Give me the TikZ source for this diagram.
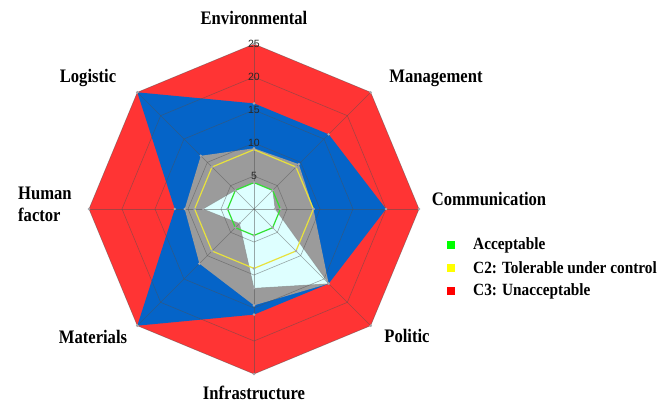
\documentclass[tikz,border=0pt]{standalone}
\usepackage{fontspec}
\setmainfont{Liberation Serif}
\newfontfamily\tickfont{Liberation Sans}
\definecolor{redC}{RGB}{255,52,52}
\definecolor{blueC}{RGB}{5,100,200}
\definecolor{grayC}{RGB}{155,155,155}
\definecolor{cyanC}{RGB}{222,255,255}
\definecolor{yelC}{RGB}{232,226,60}
\definecolor{greenC}{RGB}{50,225,50}
\definecolor{gridC}{RGB}{80,80,80}
\definecolor{mkC}{RGB}{165,165,170}
\begin{document}
\begin{tikzpicture}[x=1pt,y=1pt,
  axlbl/.style={font=\bfseries\fontsize{16.6}{19}\selectfont, inner sep=0pt, yscale=1.15, transform shape},
  leglbl/.style={font=\bfseries\fontsize{15.3}{17}\selectfont, anchor=west, inner sep=0pt, yscale=1.12, transform shape},
  legbox/.style={minimum size=7.5pt, inner sep=0pt, draw=none},
  tick/.style={font=\tickfont\fontsize{10.5}{11}\selectfont, text=black!85, inner sep=0pt},
  gridline/.style={draw=gridC, draw opacity=0.5, line width=0.6pt},
  mk/.style={fill=mkC}]
\useasboundingbox (0,0) rectangle (670,-404);
\fill[white] (0,0) rectangle (670,-404);
\begin{scope}[shift={(254,-209)}]
  % data coordinates
  \foreach \v [count=\i from 0] in {25,25,25,25,25,25,25,25}
    \coordinate (r\i) at ({90-45*\i}:{\v*6.6});
  \foreach \v [count=\i from 0] in {16,16,20,16,16,25,12,25}
    \coordinate (b\i) at ({90-45*\i}:{\v*6.6});
  \foreach \v [count=\i from 0] in {9.2,9.6,9,16,14.6,11.7,10.5,11.4}
    \coordinate (g\i) at ({90-45*\i}:{\v*6.6});
  \foreach \v [count=\i from 0] in {4,4,3.2,16,12,3.1,7.7,4}
    \coordinate (c\i) at ({90-45*\i}:{\v*6.6});
  \foreach \v [count=\i from 0] in {9,9,9,9,9,9,9,9}
    \coordinate (y\i) at ({90-45*\i}:{\v*6.6});
  \foreach \v [count=\i from 0] in {4,4,4,4,4,4,4,4}
    \coordinate (e\i) at ({90-45*\i}:{\v*6.6});
  \coordinate (O) at (0,0);
  % fills
  \fill[redC] (r0)--(r1)--(r2)--(r3)--(r4)--(r5)--(r6)--(r7)--cycle;
  \fill[blueC] (b0)--(b1)--(b2)--(b3)--(b4)--(b5)--(b6)--(b7)--cycle;
  \fill[grayC] (g0)--(g1)--(g2)--(g3)--(g4)--(g5)--(g6)--(g7)--cycle;
  \filldraw[fill=cyanC, draw=gridC, draw opacity=0.35, line width=0.5pt] (c0)--(c1)--(c2)--(c3)--(c4)--(c5)--(c6)--(c7)--cycle;
  % grid
  \foreach \k in {5,10,15,20,25}
    \draw[gridline] (90:{\k*6.6}) \foreach \a in {45,0,-45,-90,-135,-180,-225} { -- (\a:{\k*6.6}) } -- cycle;
  \foreach \i in {0,...,7}
    \draw[gridline] (O) -- (r\i);
  % lines
  \draw[yelC, line width=1.2pt] (y0)--(y1)--(y2)--(y3)--(y4)--(y5)--(y6)--(y7)--cycle;
  \draw[greenC, line width=1.2pt] (e0)--(e1)--(e2)--(e3)--(e4)--(e5)--(e6)--(e7)--cycle;
  % markers
  \foreach \s in {r,b,g,c,y,e}
    \foreach \i in {0,...,7}
      \fill[mk] (\s\i) circle (1.4);
  % tick labels
  \foreach \k [count=\j] in {5,10,15,20,25}
    \node[tick] (t\j) at (90:{\k*6.6}) {\k};
\end{scope}
% axis labels
\node[axlbl] (env) at (254,-18) {Environmental};
\node[axlbl] (man) at (436,-78) {Management};
\node[axlbl] (com) at (489,-199) {Communication};
\node[axlbl] (pol) at (407,-336) {Politic};
\node[axlbl] (inf) at (254,-393) {Infrastructure};
\node[axlbl] (mat) at (93,-337) {Materials};
\node[axlbl] (log) at (88,-78) {Logistic};
\node[axlbl, anchor=west, align=left] (hum) at (18,-204) {Human\\factor};
% legend
\node[legbox, fill={rgb,255:red,0;green,255;blue,0}] (k1) at (451,-245) {};
\node[legbox, fill={rgb,255:red,255;green,255;blue,0}] (k2) at (451,-268) {};
\node[legbox, fill={rgb,255:red,255;green,0;blue,0}] (k3) at (451,-291) {};
\node[leglbl] (l1) at (473,-245) {Acceptable};
\node[leglbl] (l2) at (473,-268) {C2: Tolerable under control};
\node[leglbl] (l3) at (473,-291) {C3: Unacceptable};
\end{tikzpicture}
\end{document}
